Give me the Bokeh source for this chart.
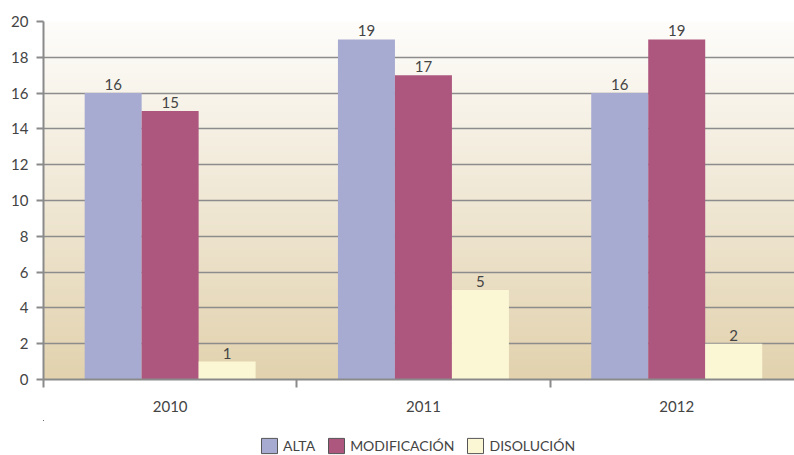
import numpy as np
from bokeh.plotting import figure
from bokeh.layouts import column
from bokeh.models import (ColumnDataSource, FixedTicker, Legend, LegendItem, Range1d)
from bokeh.core.properties import value
from bokeh.embed import file_html
from bokeh.resources import INLINE

years = ["2010", "2011", "2012"]
alta = [16, 19, 16]
modificacion = [15, 17, 19]
disolucion = [1, 5, 2]
series_names = ["ALTA", "MODIFICACIÓN", "DISOLUCIÓN"]
colors = ["#a7aad1", "#ad577f", "#fbf7d5"]
y_ticks = [0, 2, 4, 6, 8, 10, 12, 14, 16, 18, 20]

FONT = "Lato"
TXT = "#444444"
FS = "15px"

p = figure(width=794, height=420, output_backend="svg", toolbar_location=None,
           x_range=Range1d(0, 2.965), y_range=Range1d(0, 20),
           min_border_left=43, min_border_right=0, min_border_top=21,
           min_border_bottom=41)
p.outline_line_color = None
p.background_fill_color = "#ffffff"
p.border_fill_color = "#ffffff"

# gradient background
n = 200
top = np.array([254, 253, 251], dtype=float)
bot = np.array([226, 210, 174], dtype=float)
t = np.linspace(0, 1, n)[:, None]
cols = bot * (1 - t) + top * t  # row 0 = bottom
img = np.zeros((n, 1), dtype=np.uint32)
view = img.view(dtype=np.uint8).reshape((n, 1, 4))
view[:, 0, 0] = cols[:, 0].astype(np.uint8)
view[:, 0, 1] = cols[:, 1].astype(np.uint8)
view[:, 0, 2] = cols[:, 2].astype(np.uint8)
view[:, 0, 3] = 255
p.image_rgba(image=[img], x=0, y=0, dw=3, dh=20, level="image")

centers = [i + 0.5 for i in range(len(years))]
bw = 0.225
offsets = [-bw, 0, bw]
all_series = [alta, modificacion, disolucion]

# legend strip (its own bars sit outside its visible ranges, only the legend shows)
lf = figure(width=794, height=35, output_backend="svg", toolbar_location=None,
            x_range=Range1d(4, 5), y_range=Range1d(-2, -1),
            x_axis_location=None, y_axis_location=None,
            min_border_left=0, min_border_right=0, min_border_top=0,
            min_border_bottom=0)
lf.outline_line_color = None
lf.grid.visible = False
lf.background_fill_color = "#ffffff"
lf.border_fill_color = "#ffffff"

legend_items = []
for name, vals, col, off in zip(series_names, all_series, colors, offsets):
    src = ColumnDataSource(dict(x=[c + off for c in centers], top=vals,
                                lbl=[str(v) for v in vals]))
    p.vbar(x="x", top="top", width=bw, source=src, fill_color=col,
           line_color=None)
    p.text(x="x", y="top", text="lbl", source=src, text_align="center",
           text_baseline="bottom", y_offset=-3, text_font=value(FONT),
           text_font_size=FS, text_color=TXT)
    lg = lf.vbar(x="x", top="top", width=bw, source=src, fill_color=col,
                 line_color="#555555", line_width=1)
    legend_items.append(LegendItem(label=name, renderers=[lg]))

# axes
p.yaxis.ticker = FixedTicker(ticks=y_ticks)
p.yaxis.axis_line_color = "#8a8a8a"
p.yaxis.axis_line_width = 2
p.yaxis.major_tick_line_color = "#8a8a8a"
p.yaxis.major_tick_line_width = 2
p.yaxis.major_tick_out = 7
p.yaxis.major_tick_in = 0
p.yaxis.minor_tick_line_color = None
p.yaxis.major_label_text_font = FONT
p.yaxis.major_label_text_font_size = FS
p.yaxis.major_label_text_color = TXT
p.yaxis.major_label_standoff = 8

p.xaxis.ticker = FixedTicker(ticks=centers, minor_ticks=[0, 1, 2, 3])
p.xaxis.major_label_overrides = {c: y for c, y in zip(centers, years)}
p.xaxis.major_tick_line_color = None
p.xaxis.minor_tick_line_color = "#8a8a8a"
p.xaxis.minor_tick_line_width = 2
p.xaxis.minor_tick_out = 8
p.xaxis.minor_tick_in = 0
p.xaxis.axis_line_color = "#8a8a8a"
p.xaxis.axis_line_width = 2
p.xaxis.major_label_text_font = FONT
p.xaxis.major_label_text_font_size = FS
p.xaxis.major_label_text_color = TXT
p.xaxis.major_label_standoff = 13

p.xgrid.grid_line_color = None
p.ygrid.ticker = FixedTicker(ticks=y_ticks)
p.ygrid.grid_line_color = "#8c8c8c"
p.ygrid.grid_line_width = 1.5
p.ygrid.level = "underlay"

legend = Legend(items=legend_items, orientation="horizontal",
                location=(216, 0), glyph_width=20, glyph_height=19,
                label_text_font=FONT, label_text_font_size="14px",
                label_text_color=TXT, spacing=11, label_standoff=4,
                border_line_color=None, background_fill_alpha=0,
                margin=0, padding=0)
lf.add_layout(legend, "center")

layout = column(p, lf, spacing=0)
open("out.html", "w").write(file_html(layout, INLINE))
